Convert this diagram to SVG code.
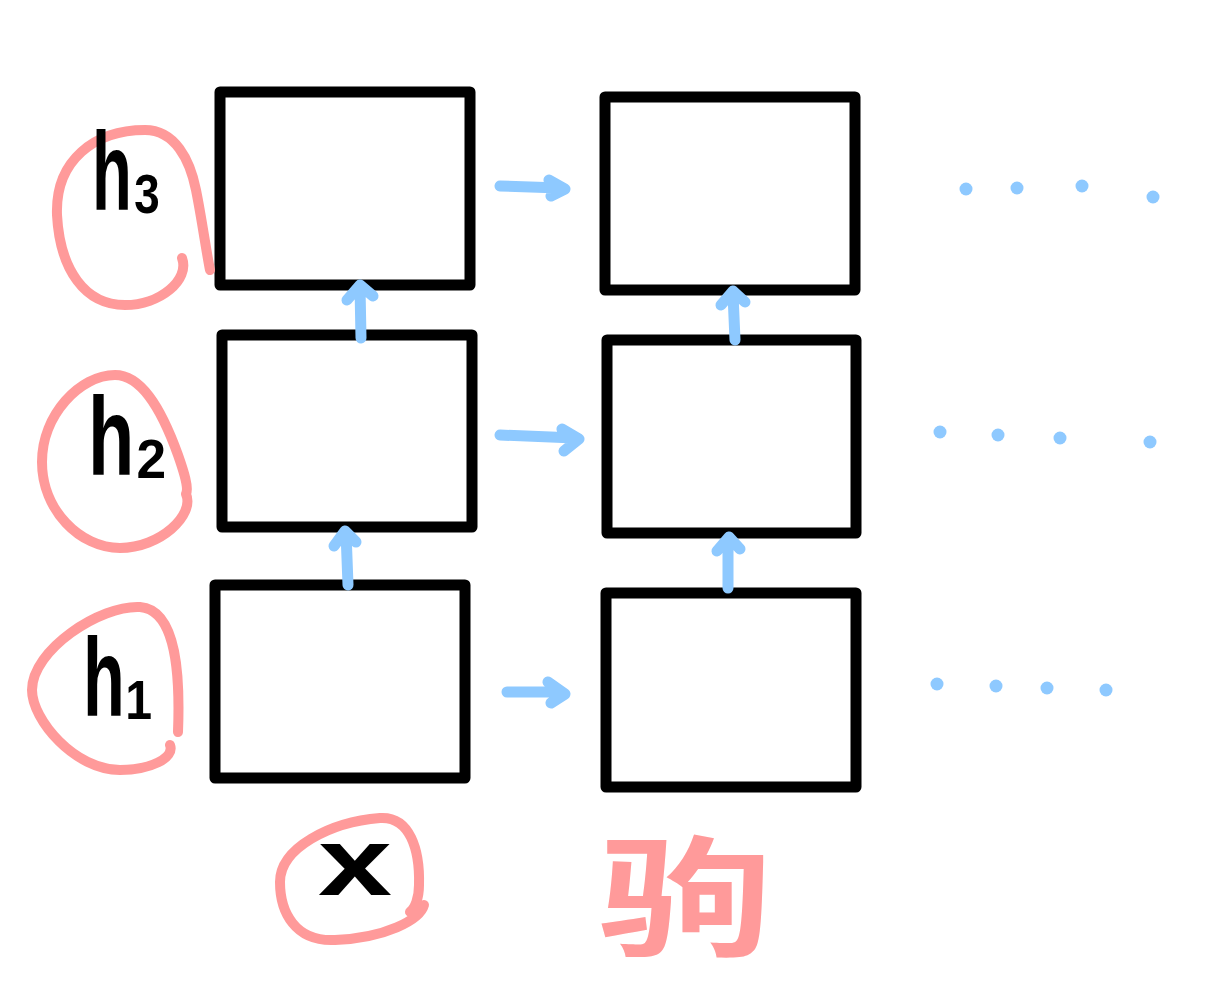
<svg xmlns="http://www.w3.org/2000/svg" width="1225" height="1000" viewBox="0 0 1225 1000">
<style>
.box{fill:none;stroke:#000;stroke-width:11;stroke-linejoin:round}
.arr{fill:none;stroke:#8ec9ff;stroke-width:11;stroke-linecap:round;stroke-linejoin:round}
.dot{fill:#8ec9ff}
.loop{fill:none;stroke:#ff9a9a;stroke-width:10;stroke-linecap:round;stroke-linejoin:round}
.lbl{font-family:"Liberation Sans","DejaVu Sans",sans-serif;font-weight:bold;fill:#000}
.cjk{font-family:"Noto Sans CJK SC","Noto Sans",sans-serif;font-weight:bold;fill:#ff9a9a}
</style>
<rect width="1225" height="1000" fill="#fff"/>
<g id="box-1-3"><rect class="box" x="220" y="92" width="250" height="193"/></g>
<g id="box-1-2"><rect class="box" x="222" y="335" width="250" height="192"/></g>
<g id="box-1-1"><rect class="box" x="215" y="585" width="250" height="193"/></g>
<g id="box-2-3"><rect class="box" x="605" y="97" width="250" height="193"/></g>
<g id="box-2-2"><rect class="box" x="607" y="340" width="249" height="193"/></g>
<g id="box-2-1"><rect class="box" x="606" y="593" width="250" height="194"/></g>
<g id="connectors">
<path class="arr" d="M500,186 L560,188 M549,180 L565,189 L551,196"/>
<path class="arr" d="M500,435 L575,438 M562,429 L579,439 L564,451"/>
<path class="arr" d="M507,692 L562,692 M548,682 L565,694 L551,703"/>
<path class="arr" d="M348,585 L346,532 M334,546 L345,531 L356,542"/>
<path class="arr" d="M361,338 L360,287 M347,300 L360,285 L373,296"/>
<path class="arr" d="M728,588 L728,540 M717,551 L729,537 L740,549"/>
<path class="arr" d="M735,340 L733,294 M721,305 L733,291 L745,302"/>
</g>
<g id="dots-3"><circle class="dot" cx="966" cy="189" r="6.5"/><circle class="dot" cx="1017" cy="188" r="6.5"/><circle class="dot" cx="1082" cy="186" r="6.5"/><circle class="dot" cx="1153" cy="197" r="6.5"/></g>
<g id="dots-2"><circle class="dot" cx="940" cy="432" r="6.5"/><circle class="dot" cx="998" cy="435" r="6.5"/><circle class="dot" cx="1060" cy="438" r="6.5"/><circle class="dot" cx="1150" cy="442" r="6.5"/></g>
<g id="dots-1"><circle class="dot" cx="937" cy="684" r="6.5"/><circle class="dot" cx="996" cy="686" r="6.5"/><circle class="dot" cx="1047" cy="688" r="6.5"/><circle class="dot" cx="1106" cy="690" r="6.5"/></g>
<g id="label-h3">
<path class="loop" d="M182,258 C190,280 160,305 125,305 C85,305 60,270 57,215 C55,160 95,130 145,130 C175,130 190,160 196,190 C202,220 206,250 210,270"/>
<text class="lbl" x="92" y="210" font-size="112" textLength="70" lengthAdjust="spacingAndGlyphs">h₃</text>
</g>
<g id="label-h2">
<path class="loop" d="M186,494 C195,515 160,548 120,548 C80,548 42,510 42,462 C42,415 80,375 115,375 C140,375 160,405 178,455 C184,472 189,488 186,494"/>
<text class="lbl" x="88" y="475" font-size="112" textLength="80" lengthAdjust="spacingAndGlyphs">h₂</text>
</g>
<g id="label-h1">
<path class="loop" d="M178,732 C180,680 178,610 140,607 C100,605 32,650 32,690 C32,720 75,770 120,770 C150,770 175,758 170,745"/>
<text class="lbl" x="83" y="716" font-size="112" textLength="70" lengthAdjust="spacingAndGlyphs">h₁</text>
</g>
<g id="label-x">
<path class="loop" d="M424,905 C420,920 385,938 335,940 C295,942 280,912 280,882 C280,848 330,822 380,818 C410,816 420,850 419,885 C419,898 415,908 410,912"/>
<text class="lbl" x="318" y="895" font-size="96" textLength="74" lengthAdjust="spacingAndGlyphs">x</text>
</g>
<g id="label-cjk">
<text class="cjk" x="598" y="945" font-size="130" textLength="175" lengthAdjust="spacingAndGlyphs">驹</text>
</g>
</svg>
